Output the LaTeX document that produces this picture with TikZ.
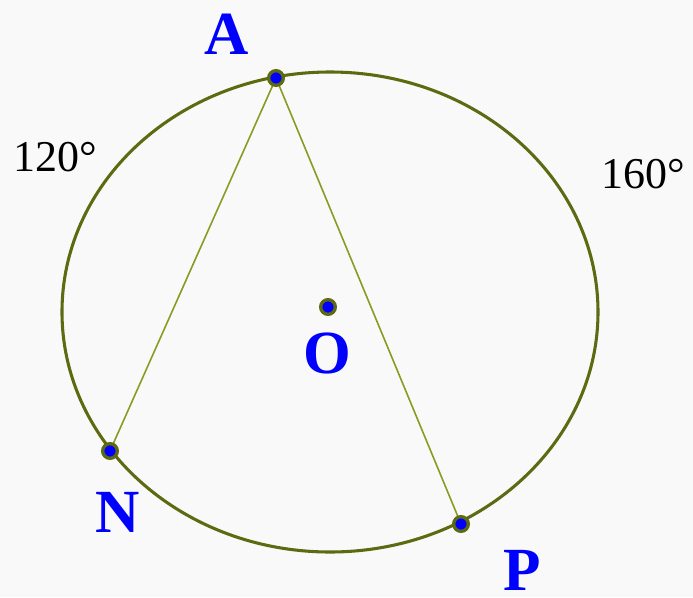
\documentclass[tikz,border=0pt]{standalone}
\usepackage{fontspec}
\setmainfont{Liberation Serif}
\usetikzlibrary{shapes.geometric}
\definecolor{olivedark}{HTML}{5E6A12}
\definecolor{olivelight}{HTML}{8A9A22}
\definecolor{ptblue}{HTML}{0000FF}
\definecolor{bgc}{HTML}{F9F9F9}
\begin{document}
\begin{tikzpicture}[x=0.75pt,y=-0.75pt,
  pt/.style={circle,fill=ptblue,draw=olivedark,line width=2.5pt,inner sep=0pt,minimum size=11pt},
  lbl/.style={text=ptblue,font=\fontsize{46}{46}\selectfont\bfseries,inner sep=0pt,text depth=0pt},
  deg/.style={font=\fontsize{33}{33}\selectfont},
  chord/.style={olivelight,line width=1.2pt}]
\fill[bgc] (0,0) rectangle (693,597);
\useasboundingbox (0,0) rectangle (693,597);
\node[draw=olivedark,line width=2.3pt,ellipse,minimum width=402pt,minimum height=360pt,inner sep=0pt] (circ) at (330,312) {};
\coordinate (a) at (276,78);
\coordinate (n) at (110,451);
\coordinate (p) at (461,524);
\draw[chord] (n) -- (a) -- (p);
\node[pt] (A) at (a) {};
\node[pt] (N) at (n) {};
\node[pt] (P) at (p) {};
\node[pt] (O) at (328,307) {};
\node[lbl] (lA) at (227,34) {A};
\node[lbl] (lN) at (118,512) {N};
\node[lbl] (lO) at (327,353) {O};
\node[lbl] (lP) at (522,570) {P};
\node[deg] (d1) at (55,157) {120°};
\node[deg] (d2) at (643,174) {160°};
\end{tikzpicture}
\end{document}
